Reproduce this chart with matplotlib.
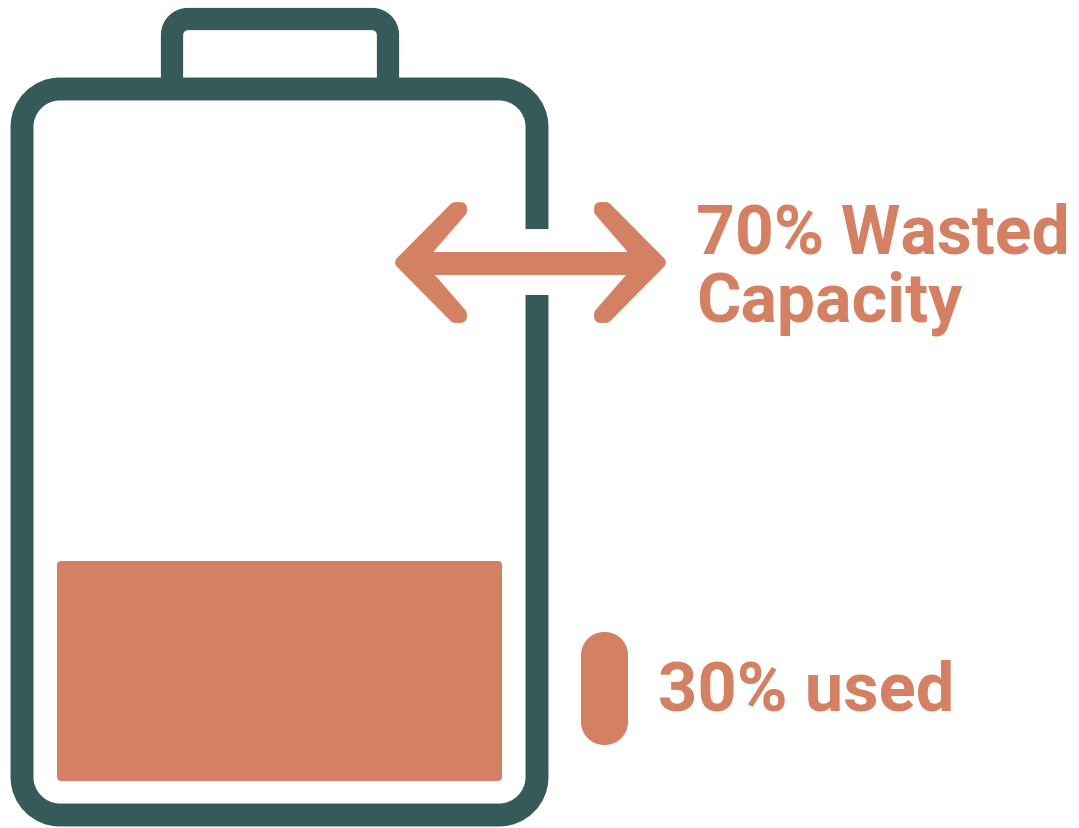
import matplotlib
matplotlib.use("Agg")
import matplotlib.pyplot as plt
from matplotlib.patches import Rectangle, PathPatch, Polygon
from matplotlib.path import Path

# battery fill share
USED_SHARE = 30
WASTED_SHARE = 70
LABEL_WASTED = f"{WASTED_SHARE}% Wasted\nCapacity"
LABEL_USED = f"{USED_SHARE}% used"

TEAL = "#36595a"
CORAL = "#d48063"
W, H = 1079, 829
K = 0.4477  # control point offset for a circular corner

plt.rcParams["font.family"] = ["Roboto", "DejaVu Sans"]

fig = plt.figure(figsize=(W / 100, H / 100), dpi=100)
ax = fig.add_axes([0, 0, 1, 1])
ax.set_xlim(0, W)
ax.set_ylim(H, 0)
ax.axis("off")


def corner(verts, codes, p0, p1, p2):
    # cubic corner going p0 -> p1 -> p2, p1 being the sharp corner
    c1 = (p0[0] + (p1[0] - p0[0]) * (1 - K), p0[1] + (p1[1] - p0[1]) * (1 - K))
    c2 = (p2[0] + (p1[0] - p2[0]) * (1 - K), p2[1] + (p1[1] - p2[1]) * (1 - K))
    verts += [c1, c2, p2]
    codes += [Path.CURVE4] * 3


def rounded(x0, y0, x1, y1, r, **kw):
    verts, codes = [(x0 + r, y0)], [Path.MOVETO]
    verts.append((x1 - r, y0))
    codes.append(Path.LINETO)
    corner(verts, codes, (x1 - r, y0), (x1, y0), (x1, y0 + r))
    verts.append((x1, y1 - r))
    codes.append(Path.LINETO)
    corner(verts, codes, (x1, y1 - r), (x1, y1), (x1 - r, y1))
    verts.append((x0 + r, y1))
    codes.append(Path.LINETO)
    corner(verts, codes, (x0 + r, y1), (x0, y1), (x0, y1 - r))
    verts.append((x0, y0 + r))
    codes.append(Path.LINETO)
    corner(verts, codes, (x0, y0 + r), (x0, y0), (x0 + r, y0))
    verts.append((x0 + r, y0))
    codes.append(Path.CLOSEPOLY)
    ax.add_patch(PathPatch(Path(verts, codes), **kw))


# terminal cap, open at the bottom
r = 16
verts, codes = [(172, 88), (172, 20 + r)], [Path.MOVETO, Path.LINETO]
corner(verts, codes, (172, 20 + r), (172, 20), (172 + r, 20))
verts.append((388 - r, 20))
codes.append(Path.LINETO)
corner(verts, codes, (388 - r, 20), (388, 20), (388, 20 + r))
verts.append((388, 88))
codes.append(Path.LINETO)
ax.add_patch(PathPatch(Path(verts, codes), fc="none", ec=TEAL, lw=16, capstyle="butt"))

# battery body
rounded(22, 90, 537, 816, 38, fc="white", ec=TEAL, lw=16.5, zorder=2)

# gap in the right wall where the arrow crosses
ax.add_patch(Rectangle((520, 230), 34, 66, fc="white", ec="none", zorder=3))

# used capacity block
block_top, block_bottom = 562, 782
rounded(57, block_top, 502, block_bottom, 4, fc=CORAL, ec="none", zorder=3)

# double headed arrow: shaft plus two chevrons with lightly rounded ends
ax.plot([415, 646], [263.5, 263.5], color=CORAL, lw=16.5, solid_capstyle="butt", zorder=4)
head = [(401, 263.5), (455, 209), (461, 209), (461, 212), (428, 250), (428, 277),
        (461, 315), (461, 318), (455, 318)]
mirror_x = 530.5
for pts in (head, [(2 * mirror_x - x, y) for x, y in head]):
    ax.add_patch(Polygon(pts, closed=True, fc=CORAL, ec=CORAL, lw=8.5, joinstyle="round", zorder=4))

# legend swatch
rounded(581, 633, 628, 746, 23, fc=CORAL, ec="none", zorder=4)

ax.text(696, 269, LABEL_WASTED, color=CORAL, fontsize=49, fontweight="bold", va="center",
        ha="left", linespacing=1.05, zorder=5)
ax.text(658, 692, LABEL_USED, color=CORAL, fontsize=49.5, fontweight="bold", va="center",
        ha="left", zorder=5)

fig.savefig("out.png", dpi=100, facecolor="white")
